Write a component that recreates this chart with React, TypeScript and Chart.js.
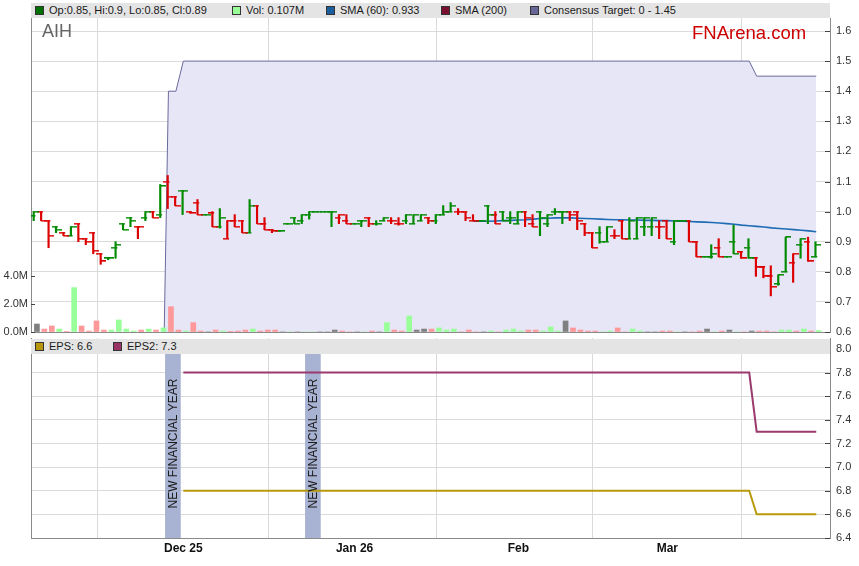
import React, { useEffect, useRef } from 'react';
import { Chart, registerables } from 'chart.js';

Chart.register(...registerables);

// ---------- DATA (one entry per weekday, index 0 = 3 Nov 2025) ----------
const openP = [
  0.985, 1.0, 0.97, 0.95, 0.93, 0.92, 0.96, 0.91, 0.93, 0.86,
  0.845, 0.88, 0.96, 0.98, 0.95, 0.98, 1.0, 0.99, 1.10, 1.05,
  1.07, 1.0, 1.03, 0.99, 0.995, 0.95, 0.91, 0.97, 0.97, 0.93,
  1.02, 0.96, 0.94, 0.935, 0.96, 0.98, 0.97, 0.99, 1.0, 1.0,
  1.0, 0.98, 0.97, 0.96, 0.97, 0.98, 0.96, 0.97, 0.97, 0.96,
  0.97, 0.96, 0.97, 0.98, 0.97, 0.99, 1.0, 1.0, 1.0, 0.97,
  0.97, 1.02, 0.99, 1.0, 0.98, 0.96, 1.0, 0.96, 1.0, 0.96,
  1.0, 1.0, 1.0, 1.0, 0.96, 0.93, 0.93, 0.90, 0.92, 0.97,
  0.91, 0.91, 0.95, 0.95, 0.95, 0.97, 0.90, 0.97, 0.97, 0.90,
  0.85, 0.85, 0.88, 0.85, 0.90, 0.865, 0.88, 0.845, 0.815, 0.785,
  0.76, 0.80, 0.83, 0.89, 0.90, 0.85,
];
const highP = [
  1.0, 1.0, 0.97, 0.95, 0.93, 0.95, 0.96, 0.91, 0.93, 0.86,
  0.845, 0.90, 0.96, 0.98, 0.95, 1.0, 1.0, 1.09, 1.12, 1.05,
  1.07, 1.0, 1.04, 0.99, 1.0, 1.01, 0.97, 0.99, 0.97, 1.04,
  1.02, 0.98, 0.94, 0.935, 0.96, 0.98, 0.99, 1.0, 1.0, 1.0,
  1.0, 0.99, 0.99, 0.96, 0.97, 0.98, 0.97, 0.98, 0.98, 0.98,
  0.99, 0.99, 0.99, 0.98, 0.99, 1.02, 1.03, 1.01, 1.0, 0.99,
  0.97, 1.02, 1.0, 1.0, 1.0, 1.0, 1.0, 0.99, 1.0, 0.99,
  1.01, 1.0, 1.0, 1.0, 0.96, 0.93, 0.95, 0.95, 0.94, 0.97,
  0.98, 0.98, 0.98, 0.98, 0.97, 0.97, 0.97, 0.97, 0.97, 0.90,
  0.85, 0.89, 0.91, 0.85, 0.955, 0.865, 0.91, 0.845, 0.815, 0.82,
  0.79, 0.915, 0.86, 0.91, 0.915, 0.90,
];
const lowP = [
  0.97, 0.97, 0.88, 0.93, 0.92, 0.92, 0.90, 0.89, 0.86, 0.825,
  0.84, 0.845, 0.94, 0.95, 0.91, 0.97, 0.98, 0.98, 1.01, 1.02,
  0.99, 0.995, 0.99, 0.99, 0.95, 0.945, 0.91, 0.95, 0.93, 0.93,
  0.96, 0.94, 0.93, 0.935, 0.96, 0.96, 0.96, 0.975, 1.0, 1.0,
  0.95, 0.96, 0.96, 0.96, 0.95, 0.95, 0.955, 0.97, 0.96, 0.955,
  0.96, 0.96, 0.97, 0.96, 0.96, 0.99, 1.0, 0.99, 0.97, 0.97,
  0.97, 0.96, 0.96, 0.97, 0.96, 0.96, 0.95, 0.95, 0.92, 0.95,
  0.99, 0.96, 0.97, 0.94, 0.92, 0.88, 0.895, 0.90, 0.91, 0.91,
  0.91, 0.91, 0.92, 0.92, 0.91, 0.91, 0.89, 0.97, 0.90, 0.85,
  0.85, 0.845, 0.85, 0.85, 0.86, 0.845, 0.845, 0.785, 0.78, 0.72,
  0.755, 0.80, 0.765, 0.845, 0.835, 0.85,
];
const closeP = [
  1.0, 0.97, 0.92, 0.94, 0.92, 0.95, 0.91, 0.90, 0.87, 0.835,
  0.845, 0.89, 0.94, 0.97, 0.95, 1.0, 0.98, 1.085, 1.05, 1.02,
  1.07, 0.995, 0.99, 0.99, 0.95, 0.98, 0.97, 0.95, 0.93, 1.02,
  0.96, 0.94, 0.935, 0.935, 0.96, 0.96, 0.99, 1.0, 1.0, 1.0,
  1.0, 0.99, 0.96, 0.96, 0.97, 0.96, 0.96, 0.98, 0.97, 0.96,
  0.99, 0.99, 0.99, 0.97, 0.99, 1.0, 1.02, 1.0, 0.98, 0.97,
  0.97, 0.99, 0.96, 0.97, 0.98, 1.0, 0.98, 0.95, 0.98, 0.99,
  1.0, 1.0, 0.99, 0.97, 0.93, 0.88, 0.90, 0.95, 0.92, 0.91,
  0.97, 0.98, 0.98, 0.98, 0.95, 0.91, 0.97, 0.97, 0.90, 0.85,
  0.85, 0.86, 0.85, 0.85, 0.86, 0.845, 0.845, 0.815, 0.785, 0.75,
  0.79, 0.915, 0.86, 0.91, 0.835, 0.89,
];
// volume in millions
const volumeM = [
  0.57, 0.21, 0.43, 0.21, 0.03, 3.17, 0.43, 0.07, 0.79, 0.14,
  0.14, 0.86, 0.21, 0.07, 0.14, 0.21, 0.14, 0.29, 1.81, 0.14,
  0.07, 0.67, 0.07, 0.0, 0.14, 0.07, 0.02, 0.07, 0.14, 0.21,
  0.07, 0.14, 0.14, 0.0, 0.0, 0.0, 0.0, 0.0, 0.0, 0.0,
  0.14, 0.07, 0.0, 0.0, 0.0, 0.07, 0.0, 0.67, 0.14, 0.07,
  1.14, 0.14, 0.21, 0.21, 0.29, 0.14, 0.21, 0.0, 0.14, 0.0,
  0.0, 0.07, 0.0, 0.14, 0.21, 0.07, 0.14, 0.14, 0.07, 0.36,
  0.07, 0.79, 0.29, 0.14, 0.07, 0.07, 0.0, 0.07, 0.29, 0.0,
  0.21, 0.07, 0.0, 0.0, 0.07, 0.07, 0.0, 0.0, 0.0, 0.07,
  0.21, 0.0, 0.07, 0.14, 0.0, 0.0, 0.07, 0.07, 0.07, 0.0,
  0.14, 0.14, 0.07, 0.21, 0.07, 0.107,
];
// SMA(60) readings, starting at index 59
const sma60Start = 59;
const sma60 = [
  0.968, 0.968, 0.968, 0.969, 0.970, 0.971, 0.972, 0.973, 0.975, 0.977,
  0.978, 0.979, 0.979, 0.979, 0.978, 0.977, 0.976, 0.975, 0.974, 0.973,
  0.973, 0.972, 0.972, 0.971, 0.971, 0.970, 0.970, 0.969, 0.968, 0.967,
  0.966, 0.965, 0.964, 0.962, 0.960, 0.958, 0.955, 0.953, 0.951, 0.949,
  0.946, 0.944, 0.942, 0.940, 0.938, 0.936, 0.933,
];
// consensus target: [index, value] at each change
const consensusTarget = [
  [17, 0], [18, 1.4], [19, 1.4], [20, 1.5], [96, 1.5], [97, 1.45], [105, 1.45],
];
// EPS forecasts: [index, value] at each change
const epsPts = [[20, 6.8], [96, 6.8], [97, 6.6], [105, 6.6]];
const eps2Pts = [[20, 7.8], [96, 7.8], [97, 7.3], [105, 7.3]];

const monthTickIdx = [20, 43, 65, 85];
const monthLabels = ['Dec 25', 'Jan 26', 'Feb', 'Mar'];
const fyMarkerIdx = [18.6, 37.4];
const fyMarkerText = 'NEW FINANCIAL YEAR';
const volTicks = [0, 2, 4];

const X_MIN = -0.46;
const X_MAX = 106.85;
const PRICE_MIN = 0.6;
const PRICE_MAX = 1.6432;
const VOL_MAX = 22.43;
const EPS_MIN = 6.4;
const EPS_MAX = 8.093;
const EPS_BAND_TOP = 8.0;

const GREEN = '#008a00';
const RED = '#dd0000';
const VOL_UP = '#99ff99';
const VOL_DOWN = '#ff9999';
const VOL_FLAT = '#808080';
const GRID = '#dadada';
const AXIS = '#8a8a8a';
const FONT = "'Liberation Sans', Arial, sans-serif";

const isUp = (i: number) => i === 0 || closeP[i] >= closeP[i - 1];
const volColor = (i: number) => {
  if (i === 0 || closeP[i] === closeP[i - 1]) return VOL_FLAT;
  return closeP[i] > closeP[i - 1] ? VOL_UP : VOL_DOWN;
};

function makeTick(color: string, side: 'left' | 'right') {
  const c = document.createElement('canvas');
  c.width = 10;
  c.height = 2;
  const g = c.getContext('2d')!;
  g.fillStyle = color;
  const x0 = side === 'left' ? 0 : 4;
  g.fillRect(x0, 0, 6, 1);
  g.globalAlpha = 0.55;
  g.fillRect(x0, 1, 6, 1);
  return c;
}

// fixed axis sizes, no extra label padding pushed into the layout
const fixW = (w: number) => (s: any) => {
  s.width = w;
  s.paddingTop = 0;
  s.paddingBottom = 0;
};
const fixH = (h: number) => (s: any) => {
  s.height = h;
  s.paddingLeft = 0;
  s.paddingRight = 0;
};

// short tick marks drawn inward from the axis line, at each tick of the axis
const innerTicks = {
  id: 'innerTicks',
  afterDraw(chart: any, _a: any, opts: any) {
    const ctx = chart.ctx;
    const area = chart.chartArea;
    ctx.save();
    ctx.strokeStyle = '#444';
    ctx.lineWidth = 1;
    (opts.axes || []).forEach((a: { id: string; len: number }) => {
      const s = chart.scales[a.id];
      if (!s) return;
      s.ticks.forEach((t: any) => {
        const y = Math.round(s.getPixelForValue(t.value)) + 0.5;
        ctx.beginPath();
        if (s.position === 'right') {
          ctx.moveTo(area.right - a.len, y);
          ctx.lineTo(area.right, y);
        } else {
          ctx.moveTo(area.left, y);
          ctx.lineTo(area.left + a.len, y);
        }
        ctx.stroke();
      });
    });
    ctx.restore();
  },
};

const Swatch = ({ color }: { color: string }) => (
  <span
    style={{
      display: 'inline-block',
      width: 7,
      height: 7,
      background: color,
      border: '1px solid #333',
      marginRight: 5,
      verticalAlign: -1,
    }}
  />
);

export default function App() {
  const topRef = useRef<HTMLCanvasElement>(null);
  const botRef = useRef<HTMLCanvasElement>(null);

  useEffect(() => {
    Chart.defaults.font.family = FONT;
    const tL = { g: makeTick(GREEN, 'left'), r: makeTick(RED, 'left') };
    const tR = { g: makeTick(GREEN, 'right'), r: makeTick(RED, 'right') };

    const top = new Chart(topRef.current!, {
      type: 'bar',
      data: {
        datasets: [
          {
            type: 'line',
            label: 'Consensus Target',
            data: consensusTarget.map(([x, y]) => ({ x, y })),
            borderColor: '#6a6a9c',
            borderWidth: 1,
            pointRadius: 0,
            fill: 'start',
            backgroundColor: '#e6e6f7',
            yAxisID: 'y',
            order: 10,
          } as any,
          {
            type: 'bar',
            label: 'Vol',
            data: volumeM.map((v, i) => ({ x: i, y: v })),
            backgroundColor: (c: any) => volColor(c.dataIndex),
            barThickness: 5,
            yAxisID: 'yVol',
            order: 9,
          },
          {
            type: 'line',
            label: 'SMA (60)',
            data: sma60.map((v, k) => ({ x: sma60Start + k, y: v })),
            borderColor: '#1f6cb4',
            borderWidth: 1.6,
            pointRadius: 0,
            yAxisID: 'y',
            order: 5,
          } as any,
          {
            type: 'bar',
            label: 'HL',
            data: highP.map((h, i) => ({ x: i, y: [lowP[i], h] })),
            backgroundColor: (c: any) => (isUp(c.dataIndex) ? GREEN : RED),
            barThickness: 1.5,
            yAxisID: 'y',
            order: 3,
          } as any,
          {
            type: 'line',
            label: 'Open',
            data: openP.map((o, i) => ({ x: i, y: o })),
            showLine: false,
            pointRadius: 3,
            pointStyle: (c: any) => (isUp(c.dataIndex) ? tL.g : tL.r),
            yAxisID: 'y',
            order: 2,
          } as any,
          {
            type: 'line',
            label: 'Close',
            data: closeP.map((o, i) => ({ x: i, y: o })),
            showLine: false,
            pointRadius: 3,
            pointStyle: (c: any) => (isUp(c.dataIndex) ? tR.g : tR.r),
            yAxisID: 'y',
            order: 1,
          } as any,
        ],
      },
      options: {
        responsive: false,
        animation: false,
        events: [],
        layout: { padding: { top: 18, bottom: 8, left: 0, right: 0 } },
        plugins: {
          legend: { display: false },
          tooltip: { enabled: false },
          innerTicks: { axes: [{ id: 'y', len: 5 }, { id: 'yVol', len: 4 }] },
        },
        scales: {
          x: {
            type: 'linear',
            min: X_MIN,
            max: X_MAX,
            offset: false,
            afterBuildTicks: (s: any) => {
              s.ticks = monthTickIdx.map((v) => ({ value: v }));
            },
            afterFit: fixH(0),
            ticks: { display: false },
            grid: { color: GRID, drawTicks: false },
            border: { display: true, color: AXIS },
          },
          y: {
            position: 'right',
            min: PRICE_MIN,
            max: PRICE_MAX,
            afterFit: fixW(29),
            ticks: {
              stepSize: 0.1,
              includeBounds: false,
              color: '#333',
              font: { size: 11 },
              padding: 6,
              callback: (v: any) => Number(v).toFixed(1),
            },
            grid: { color: GRID, drawTicks: false },
            border: { display: true, color: AXIS },
          },
          yVol: {
            position: 'left',
            min: 0,
            max: VOL_MAX,
            afterBuildTicks: (s: any) => {
              s.ticks = volTicks.map((v) => ({ value: v }));
            },
            afterFit: fixW(31),
            ticks: {
              color: '#333',
              font: { size: 11 },
              padding: 3,
              callback: (v: any) => Number(v).toFixed(1) + 'M',
            },
            grid: { drawOnChartArea: false, drawTicks: false },
            border: { display: true, color: AXIS },
          },
        },
      } as any,
      plugins: [innerTicks],
    });

    const fyTextPlugin = {
      id: 'fyText',
      afterDatasetsDraw(chart: any) {
        const meta = chart.getDatasetMeta(0);
        const ctx = chart.ctx;
        ctx.save();
        ctx.fillStyle = '#1a1a1a';
        ctx.font = `12px ${FONT}`;
        ctx.textAlign = 'center';
        ctx.textBaseline = 'middle';
        meta.data.forEach((el: any) => {
          const cy = (el.y + el.base) / 2;
          ctx.save();
          ctx.translate(el.x + 1, cy);
          ctx.rotate(-Math.PI / 2);
          ctx.fillText(fyMarkerText, 0, 0);
          ctx.restore();
        });
        ctx.restore();
      },
    };

    const bot = new Chart(botRef.current!, {
      type: 'bar',
      data: {
        datasets: [
          {
            type: 'bar',
            label: 'FY',
            data: fyMarkerIdx.map((x) => ({ x, y: [EPS_MIN, EPS_BAND_TOP] })),
            backgroundColor: '#a8b2d2',
            barThickness: 15,
            yAxisID: 'y',
            order: 5,
          } as any,
          {
            type: 'line',
            label: 'EPS',
            data: epsPts.map(([x, y]) => ({ x, y })),
            borderColor: '#b89a0c',
            borderWidth: 2,
            pointRadius: 0,
            yAxisID: 'y',
            order: 2,
          } as any,
          {
            type: 'line',
            label: 'EPS2',
            data: eps2Pts.map(([x, y]) => ({ x, y })),
            borderColor: '#9a3a6e',
            borderWidth: 2,
            pointRadius: 0,
            yAxisID: 'y',
            order: 1,
          } as any,
        ],
      },
      options: {
        responsive: false,
        animation: false,
        events: [],
        layout: { padding: { top: 6, bottom: 0, left: 0, right: 0 } },
        plugins: {
          legend: { display: false },
          tooltip: { enabled: false },
          innerTicks: { axes: [{ id: 'y', len: 5 }] },
        },
        scales: {
          x: {
            type: 'linear',
            min: X_MIN,
            max: X_MAX,
            offset: false,
            afterBuildTicks: (s: any) => {
              s.ticks = monthTickIdx.map((v) => ({ value: v }));
            },
            afterFit: fixH(28),
            ticks: {
              color: '#111',
              padding: 3,
              maxRotation: 0,
              font: { size: 12, weight: 'bold', family: "'Liberation Sans Narrow', 'Arial Narrow', " + FONT },
              callback: (_v: any, i: number) => monthLabels[i],
            },
            grid: { color: GRID, drawTicks: false },
            border: { display: true, color: AXIS },
          },
          y: {
            position: 'right',
            min: EPS_MIN,
            max: EPS_MAX,
            afterFit: fixW(29),
            ticks: {
              stepSize: 0.2,
              includeBounds: false,
              color: '#333',
              font: { size: 11 },
              padding: 6,
              callback: (v: any) => Number(v).toFixed(1),
            },
            grid: { color: GRID, drawTicks: false },
            border: { display: true, color: AXIS },
          },
          yL: {
            position: 'left',
            min: 0,
            max: 1,
            afterFit: fixW(31),
            ticks: { display: false },
            grid: { drawOnChartArea: false, drawTicks: false },
            border: { display: true, color: AXIS },
          },
        },
      } as any,
      plugins: [fyTextPlugin, innerTicks],
    });

    return () => {
      top.destroy();
      bot.destroy();
    };
  }, []);

  const band: React.CSSProperties = {
    position: 'absolute',
    left: 31,
    width: 799,
    height: 15,
    background: '#e4e4e4',
    fontSize: 11,
    lineHeight: '15px',
    color: '#1a1a1a',
    whiteSpace: 'nowrap',
    boxSizing: 'border-box',
  };
  const item = (left: number): React.CSSProperties => ({ position: 'absolute', left, top: 0 });

  return (
    <div
      style={{
        position: 'absolute',
        left: 0,
        top: 0,
        width: 859,
        height: 566,
        background: '#fff',
        fontFamily: FONT,
        overflow: 'hidden',
      }}
    >
      <canvas ref={topRef} width={859} height={340} style={{ position: 'absolute', left: 0, top: 0 }} />
      <canvas ref={botRef} width={859} height={234} style={{ position: 'absolute', left: 0, top: 332 }} />
      <div style={{ ...band, top: 3 }}>
        <span style={item(4)}><Swatch color="#007000" />Op:0.85, Hi:0.9, Lo:0.85, Cl:0.89</span>
        <span style={item(201)}><Swatch color="#99ff99" />Vol: 0.107M</span>
        <span style={item(295)}><Swatch color="#1a5e9e" />SMA (60): 0.933</span>
        <span style={item(410)}><Swatch color="#7a1030" />SMA (200)</span>
        <span style={item(499)}><Swatch color="#666699" />Consensus Target: 0 - 1.45</span>
      </div>
      <div style={{ position: 'absolute', left: 42, top: 21, fontSize: 18, color: '#666' }}>AIH</div>
      <div style={{ position: 'absolute', left: 692, top: 22, fontSize: 18.5, color: '#cc0000' }}>FNArena.com</div>
      <div style={{ ...band, top: 339 }}>
        <span style={item(4)}><Swatch color="#b8960c" />EPS: 6.6</span>
        <span style={item(82)}><Swatch color="#993366" />EPS2: 7.3</span>
      </div>
    </div>
  );
}
